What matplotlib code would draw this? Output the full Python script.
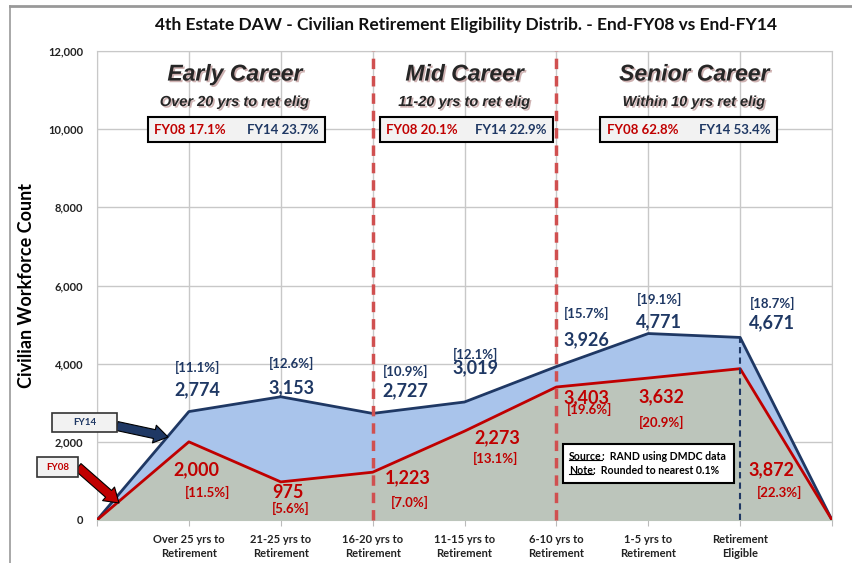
import matplotlib.pyplot as plt
import matplotlib.patheffects as pe
from matplotlib.patches import Rectangle

plt.rcParams['font.family'] = ['Lato', 'DejaVu Sans']

# categories (0 and 8 are the zero end points of the area)
categories = ['', 'Over 25 yrs to\nRetirement', '21-25 yrs to\nRetirement', '16-20 yrs to\nRetirement',
              '11-15 yrs to\nRetirement', '6-10 yrs to\nRetirement', '1-5 yrs to\nRetirement',
              'Retirement\nEligible', '']
fy14 = [0, 2774, 3153, 2727, 3019, 3926, 4771, 4671, 0]
fy08 = [0, 2000, 975, 1223, 2273, 3403, 3632, 3872, 0]
fy14_pct = ['', '[11.1%]', '[12.6%]', '[10.9%]', '[12.1%]', '[15.7%]', '[19.1%]', '[18.7%]', '']
fy08_pct = ['', '[11.5%]', '[5.6%]', '[7.0%]', '[13.1%]', '[19.6%]', '[20.9%]', '[22.3%]', '']

groups = ['Early Career', 'Mid Career', 'Senior Career']
group_sub = ['Over 20 yrs to ret elig', '11-20 yrs to ret elig', 'Within 10 yrs ret elig']
group_fy08 = ['FY08 17.1%', 'FY08 20.1%', 'FY08 62.8%']
group_fy14 = ['FY14 23.7%', 'FY14 22.9%', 'FY14 53.4%']

navy = '#1f3864'
red = '#c00000'
blue_fill = '#a9c4eb'
gray_fill = '#bcc5bb'
head_font = ['Liberation Sans', 'DejaVu Sans']

fig = plt.figure(figsize=(8.52, 5.63), dpi=100)
ax = fig.add_axes([97/852, 1-520/563, 735/852, 469/563])

x = list(range(len(categories)))
ax.fill_between(x, fy14, color=blue_fill, zorder=2)
ax.fill_between(x, fy08, color=gray_fill, zorder=3)
ax.plot(x, fy14, color=navy, lw=2, zorder=5)
ax.plot(x, fy08, color=red, lw=2, zorder=5)

ax.set_xlim(0, 8)
ax.set_ylim(0, 12000)
ax.set_xticks(x)
ax.set_xticklabels(categories, fontsize=8, fontweight='bold', color='#222222', linespacing=1.4)
ax.set_yticks(range(0, 12001, 2000))
ax.set_yticklabels([f'{v:,}' for v in range(0, 12001, 2000)], fontsize=8, fontweight='bold', color='#222222')
ax.tick_params(axis='x', length=4, color='#bbbbbb', pad=6)
ax.tick_params(axis='y', length=0, pad=10)
ax.grid(color='#c8c8c8', lw=1)
ax.set_axisbelow(True)
for s in ax.spines.values():
    s.set_color('#c8c8c8')
ax.set_ylabel('Civilian Workforce Count', fontsize=13, fontweight='bold')
ax.yaxis.set_label_coords(-(97 - 35) / 735, 0.5)

fig.suptitle('4th Estate DAW - Civilian Retirement Eligibility Distrib. - End-FY08 vs End-FY14',
             fontsize=12.5, fontweight='bold', y=0.97, x=466/852, color='#111111')

# career dividers
for xv in (3, 5):
    ax.plot([xv, xv], [0, 12000], color='#d05050', lw=2.5, ls=(0, (3, 2)), zorder=6, clip_on=False)
ax.plot([7, 7], [0, 4671], color=navy, lw=1.5, ls=(0, (3, 2)), zorder=6)

# group headers
shadow = [pe.SimplePatchShadow(offset=(1.2, -1.2), shadow_rgbFace='#b08080', alpha=0.6), pe.Normal()]
group_x = [1.5, 4.0, 6.5]
box_x = [(0.554, 2.478), (3.076, 4.967), (5.478, 7.40)]
for gx, g, sub, a, b, (bx0, bx1) in zip(group_x, groups, group_sub, group_fy08, group_fy14, box_x):
    ax.text(gx, 11410, g, ha='center', va='center', fontsize=16.5, fontweight='bold', style='italic',
            color='#262626', family=head_font, path_effects=shadow)
    ax.text(gx, 10695, sub, ha='center', va='center', fontsize=10.5, fontweight='bold', style='italic',
            color='#262626', family=head_font, path_effects=shadow)
    ax.add_patch(Rectangle((bx0, 9671), bx1 - bx0, 640, facecolor='#f2f2f2', edgecolor='black', lw=1.5, zorder=7))
    ax.text(bx0 + 0.07, 9991, a, ha='left', va='center', fontsize=9.5, fontweight='bold', color=red, zorder=8)
    ax.text(bx1 - 0.07, 9991, b, ha='right', va='center', fontsize=9.5, fontweight='bold', color=navy, zorder=8)

# data label positions: (x, y of percent, y of value)
fy14_lab_pos = [None, (1.09, 3915, 3326), (2.12, 4017, 3377), (3.36, 3812, 3300), (4.12, 4247, 3889),
                (5.33, 5296, 4605), (6.12, 5654, 5066), (7.35, 5552, 5040), None]
for i, pos in enumerate(fy14_lab_pos):
    if pos is None:
        continue
    px, yp, yv = pos
    ax.text(px, yp, fy14_pct[i], ha='center', va='center', fontsize=9.5, fontweight='bold', color=navy, zorder=8)
    ax.text(px, yv, f'{fy14[i]:,}', ha='center', va='center', fontsize=13, fontweight='bold', color=navy, zorder=8)

# (x of value, y of value, x of percent, y of percent)
fy08_lab_pos = [None, (1.08, 1279, 1.2, 716), (2.08, 716, 2.11, 307), (3.38, 1075, 3.41, 460),
                (4.36, 2098, 4.34, 1586), (5.33, 3121, 5.36, 2840), (6.14, 3147, 6.15, 2507),
                (7.34, 1279, 7.43, 716), None]
for i, pos in enumerate(fy08_lab_pos):
    if pos is None:
        continue
    vx, vy, px, py = pos
    ax.text(vx, vy, f'{fy08[i]:,}', ha='center', va='center', fontsize=13, fontweight='bold', color=red, zorder=8)
    ax.text(px, py, fy08_pct[i], ha='center', va='center', fontsize=9.5, fontweight='bold', color=red, zorder=8)

# source box
ax.add_patch(Rectangle((5.076, 947), 1.859, 998, facecolor='white', edgecolor='black', lw=1.5, zorder=7))
src_lines = [('Source', ':  RAND using DMDC data', 1637), ('Note', ':  Rounded to nearest 0.1%', 1279)]
fig.canvas.draw()
rend = fig.canvas.get_renderer()
for word, rest, yv in src_lines:
    t = ax.text(5.14, yv, word, ha='left', va='center', fontsize=7.6, fontweight='bold', zorder=8)
    bb = t.get_window_extent(rend).transformed(ax.transData.inverted())
    ax.text(bb.x1, yv, rest, ha='left', va='center', fontsize=7.6, fontweight='bold', zorder=8)
    ax.plot([bb.x0, bb.x1], [bb.y0 + 40, bb.y0 + 40], color='black', lw=0.8, zorder=8)

# series callouts (figure pixel coords)
def px2fig(px, py):
    return px / 852, 1 - py / 563

fx, fy = px2fig(52, 432)
fig.patches.append(Rectangle((fx, fy), 65/852, 19/563, transform=fig.transFigure,
                             facecolor='#f2f2f2', edgecolor='#333333', lw=1.2, zorder=9))
fig.text(*px2fig(84.5, 422.5), 'FY14', ha='center', va='center', fontsize=7, fontweight='bold', color=navy, zorder=11)
fx, fy = px2fig(37, 477)
fig.patches.append(Rectangle((fx, fy), 41/852, 20/563, transform=fig.transFigure,
                             facecolor='#f2f2f2', edgecolor='#333333', lw=1.2, zorder=9))
fig.text(*px2fig(57.5, 467), 'FY08', ha='center', va='center', fontsize=7, fontweight='bold', color=red, zorder=11)

ax.annotate('', xy=px2fig(168, 437), xycoords='figure fraction', xytext=px2fig(117, 426),
            textcoords='figure fraction',
            arrowprops=dict(arrowstyle='simple,head_width=1.3,head_length=1.0,tail_width=0.65',
                            facecolor=navy, edgecolor='black', lw=0.8, shrinkA=0, shrinkB=0), zorder=10)
ax.annotate('', xy=px2fig(119, 503), xycoords='figure fraction', xytext=px2fig(78, 467),
            textcoords='figure fraction',
            arrowprops=dict(arrowstyle='simple,head_width=1.3,head_length=1.0,tail_width=0.65',
                            facecolor=red, edgecolor='black', lw=0.8, shrinkA=0, shrinkB=0), zorder=10)

# outer chart border
fig.add_artist(plt.Line2D([10/852, 10/852], [0, 1 - 6/563], transform=fig.transFigure, color='#999999', lw=1.2))
fig.add_artist(plt.Line2D([10/852, 1], [1 - 6/563, 1 - 6/563], transform=fig.transFigure, color='#999999', lw=2))

fig.savefig('out.png', dpi=100)
